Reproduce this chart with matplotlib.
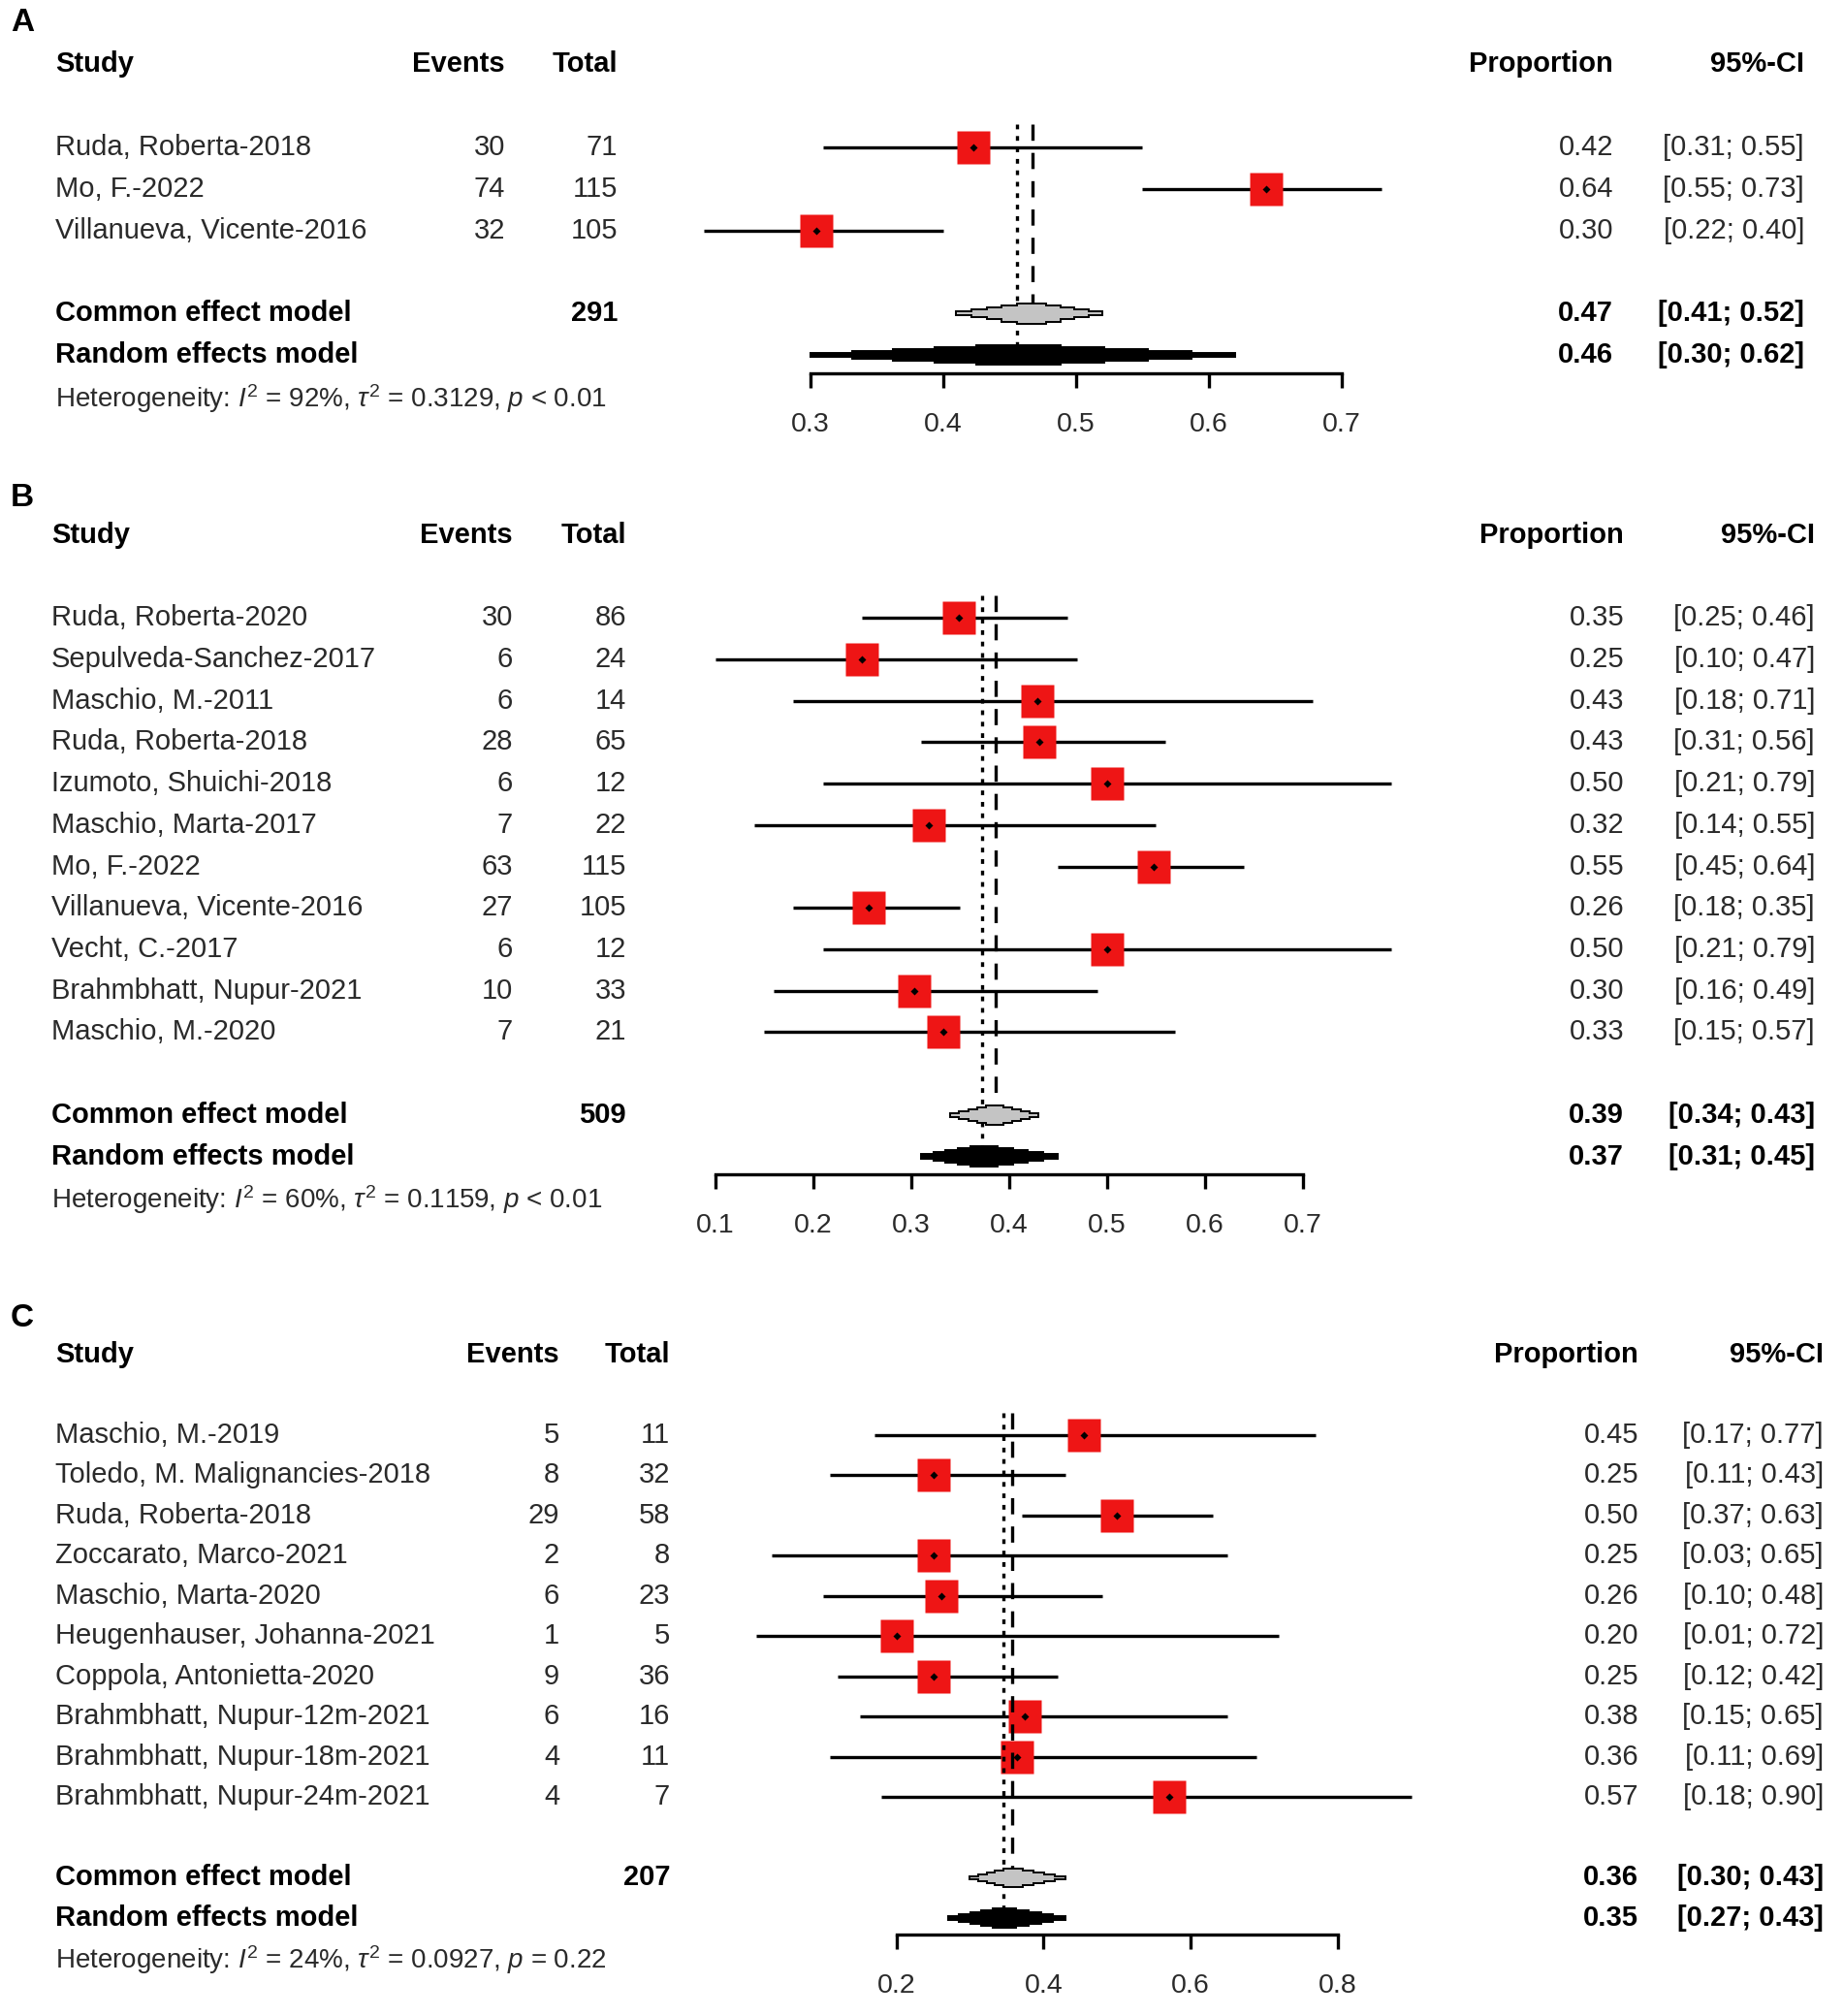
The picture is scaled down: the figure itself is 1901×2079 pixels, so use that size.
import matplotlib
matplotlib.use("Agg")
from matplotlib import pyplot as plt
from matplotlib.transforms import blended_transform_factory

plt.rcParams['font.family'] = ['Liberation Sans', 'DejaVu Sans']
plt.rcParams['mathtext.fontset'] = 'custom'
plt.rcParams['mathtext.rm'] = 'Liberation Sans'
plt.rcParams['mathtext.it'] = 'Liberation Sans:italic'
plt.rcParams['lines.scale_dashes'] = False

# ---- Panel A data ----
a_studies = ["Ruda, Roberta-2018", "Mo, F.-2022", "Villanueva, Vicente-2016"]
a_events = [30, 74, 32]
a_total = [71, 115, 105]
a_lower = [0.31, 0.55, 0.22]
a_upper = [0.55, 0.73, 0.40]
a_common = [0.467, 0.41, 0.52]
a_random = [0.456, 0.30, 0.62]
a_het = ["92%", "0.3129", "< 0.01"]
a_ticks = [0.3, 0.4, 0.5, 0.6, 0.7]

# ---- Panel B data ----
b_studies = ["Ruda, Roberta-2020", "Sepulveda-Sanchez-2017", "Maschio, M.-2011",
             "Ruda, Roberta-2018", "Izumoto, Shuichi-2018", "Maschio, Marta-2017",
             "Mo, F.-2022", "Villanueva, Vicente-2016", "Vecht, C.-2017",
             "Brahmbhatt, Nupur-2021", "Maschio, M.-2020"]
b_events = [30, 6, 6, 28, 6, 7, 63, 27, 6, 10, 7]
b_total = [86, 24, 14, 65, 12, 22, 115, 105, 12, 33, 21]
b_lower = [0.25, 0.10, 0.18, 0.31, 0.21, 0.14, 0.45, 0.18, 0.21, 0.16, 0.15]
b_upper = [0.46, 0.47, 0.71, 0.56, 0.79, 0.55, 0.64, 0.35, 0.79, 0.49, 0.57]
b_common = [0.386, 0.34, 0.43]
b_random = [0.373, 0.31, 0.45]
b_het = ["60%", "0.1159", "< 0.01"]
b_ticks = [0.1, 0.2, 0.3, 0.4, 0.5, 0.6, 0.7]

# ---- Panel C data ----
c_studies = ["Maschio, M.-2019", "Toledo, M. Malignancies-2018", "Ruda, Roberta-2018",
             "Zoccarato, Marco-2021", "Maschio, Marta-2020", "Heugenhauser, Johanna-2021",
             "Coppola, Antonietta-2020", "Brahmbhatt, Nupur-12m-2021",
             "Brahmbhatt, Nupur-18m-2021", "Brahmbhatt, Nupur-24m-2021"]
c_events = [5, 8, 29, 2, 6, 1, 9, 6, 4, 4]
c_total = [11, 32, 58, 8, 23, 5, 36, 16, 11, 7]
c_lower = [0.17, 0.11, 0.37, 0.03, 0.10, 0.01, 0.12, 0.15, 0.11, 0.18]
c_upper = [0.77, 0.43, 0.63, 0.65, 0.48, 0.72, 0.42, 0.65, 0.69, 0.90]
c_common = [0.357, 0.30, 0.43]
c_random = [0.346, 0.27, 0.43]
c_het = ["24%", "0.0927", "= 0.22"]
c_ticks = [0.2, 0.4, 0.6, 0.8]

W, H = 1901, 2079
fig = plt.figure(figsize=(W / 100, H / 100), dpi=100)

FS = 21
TXT = '#2a2a2a'


def stepped_diamond(ax, est, lo, hi, row, h, fc, steps=5):
    # diamond drawn as a staircase, like the low-res polygons in the original
    xs, ys = [lo], [row]
    for j in range(steps):
        f = 1 - j / steps
        xl = est - (est - lo) * f
        ys_lvl = row - h * (j + 1) / steps
        xs += [xl, xl]
        ys += [row - h * j / steps, ys_lvl]
    for j in reversed(range(steps)):
        f = 1 - j / steps
        xr = est + (hi - est) * f
        xs += [xr, xr]
        ys += [row - h * (j + 1) / steps, row - h * j / steps]
    n = len(xs)
    xs_low = xs[::-1]
    ys_low = [2 * row - y for y in ys[::-1]]
    ax.fill(xs + xs_low, ys + ys_low, facecolor=fc, edgecolor='black', lw=1.4,
            joinstyle='miter', clip_on=False, zorder=6)


def panel(letter, studies, events, total, lower, upper, common, random_, het, ticks, lay):
    y0, sp, axis_row = lay['y0'], lay['sp'], lay['axis_row']
    x0, x1 = lay['x']
    bottom = H - (y0 + axis_row * sp)
    ax = fig.add_axes([x0 / W, bottom / H, (x1 - x0) / W, axis_row * sp / H])
    ax.set_xlim(ticks[0], ticks[-1])
    ax.set_ylim(axis_row, 0)
    for s in ['top', 'right', 'left']:
        ax.spines[s].set_visible(False)
    ax.spines['bottom'].set_linewidth(2.4)
    ax.set_yticks([])
    ax.set_xticks(ticks)
    ax.set_xticklabels([f"{t:.1f}" for t in ticks])
    ax.tick_params(axis='x', direction='out', length=11, width=2.4, pad=18,
                   labelsize=20.5, labelcolor=TXT)
    ax.patch.set_visible(False)

    tr = blended_transform_factory(fig.transFigure, ax.transData)
    cx = {k: v / W for k, v in lay['cols'].items()}

    fig.text(11 / W, 1 - lay['letter_y'] / H, letter, fontsize=24, fontweight='bold',
             va='center', ha='left')

    # header
    for key, label, ha in [('study', "Study", 'left'), ('events', "Events", 'right'),
                           ('total', "Total", 'right'), ('prop', "Proportion", 'right'),
                           ('ci', "95%-CI", 'right')]:
        ax.text(cx[key], 0, label, transform=tr, fontsize=FS, fontweight='bold',
                va='center', ha=ha)

    n = len(studies)
    rows = list(range(2, 2 + n))
    props = [e / t for e, t in zip(events, total)]
    for r, name, e, t, p, lo, hi in zip(rows, studies, events, total, props, lower, upper):
        ax.text(cx['study'], r, name, transform=tr, fontsize=FS, color=TXT, va='center', ha='left')
        ax.text(cx['events'], r, str(e), transform=tr, fontsize=FS, color=TXT, va='center', ha='right')
        ax.text(cx['total'], r, str(t), transform=tr, fontsize=FS, color=TXT, va='center', ha='right')
        ax.text(cx['prop'], r, f"{p:.2f}", transform=tr, fontsize=FS, color=TXT, va='center', ha='right')
        ax.text(cx['ci'], r, f"[{lo:.2f}; {hi:.2f}]", transform=tr, fontsize=FS, color=TXT,
                va='center', ha='right')
        ax.plot([lo, hi], [r, r], color='black', lw=2.4, solid_capstyle='butt', clip_on=False, zorder=2)
        ax.plot(p, r, marker='s', ms=24, mec='none', color='#EE1515', clip_on=False, zorder=3)
        ax.plot(p, r, marker='D', ms=4, mec='none', color='black', clip_on=False, zorder=4)

    rc = 2 + n + 1
    rr = rc + 1
    ax.text(cx['study'], rc, "Common effect model", transform=tr, fontsize=FS, fontweight='bold', va='center', ha='left')
    ax.text(cx['total'], rc, str(sum(total)), transform=tr, fontsize=FS, fontweight='bold', va='center', ha='right')
    ax.text(cx['prop'], rc, f"{common[0]:.2f}", transform=tr, fontsize=FS, fontweight='bold', va='center', ha='right')
    ax.text(cx['ci'], rc, f"[{common[1]:.2f}; {common[2]:.2f}]", transform=tr, fontsize=FS,
            fontweight='bold', va='center', ha='right')
    ax.text(cx['study'], rr, "Random effects model", transform=tr, fontsize=FS, fontweight='bold', va='center', ha='left')
    ax.text(cx['prop'], rr, f"{random_[0]:.2f}", transform=tr, fontsize=FS, fontweight='bold', va='center', ha='right')
    ax.text(cx['ci'], rr, f"[{random_[1]:.2f}; {random_[2]:.2f}]", transform=tr, fontsize=FS,
            fontweight='bold', va='center', ha='right')

    ax.text(cx['study'], rr + 1.05,
            r"Heterogeneity: $I^2$ = " + het[0] + r", $\tau^2$ = " + het[1] + r", $p$ " + het[2],
            transform=tr, fontsize=20, color=TXT, va='center', ha='left')

    # reference lines (dashed = common, dotted = random)
    ax.plot([common[0]] * 2, [1.45, rc], color='black', lw=2.4, linestyle=(0, (12, 9)),
            clip_on=False, zorder=5)
    ax.plot([random_[0]] * 2, [1.45, rr], color='black', lw=2.4, linestyle=(0, (3.5, 5)),
            clip_on=False, zorder=5)

    stepped_diamond(ax, common[0], common[1], common[2], rc, 0.24, '#C4C4C4')
    stepped_diamond(ax, random_[0], random_[1], random_[2], rr, 0.24, 'black')


panel("A", a_studies, a_events, a_total, a_lower, a_upper, a_common, a_random, a_het, a_ticks,
      dict(y0=66.3, sp=42.83, axis_row=7.43, x=(835.8, 1383.6), letter_y=24,
           cols=dict(study=57, events=521, total=637, prop=1664, ci=1861)))
panel("B", b_studies, b_events, b_total, b_lower, b_upper, b_common, b_random, b_het, b_ticks,
      dict(y0=551.9, sp=42.71, axis_row=15.43, x=(737.6, 1343.8), letter_y=513,
           cols=dict(study=53, events=529, total=646, prop=1675, ci=1872)))
panel("C", c_studies, c_events, c_total, c_lower, c_upper, c_common, c_random, c_het, c_ticks,
      dict(y0=1397, sp=41.5, axis_row=14.41, x=(924.6, 1379.7), letter_y=1360,
           cols=dict(study=57, events=577, total=691, prop=1690, ci=1881)))

fig.savefig("out.png", dpi=100, facecolor='white')
